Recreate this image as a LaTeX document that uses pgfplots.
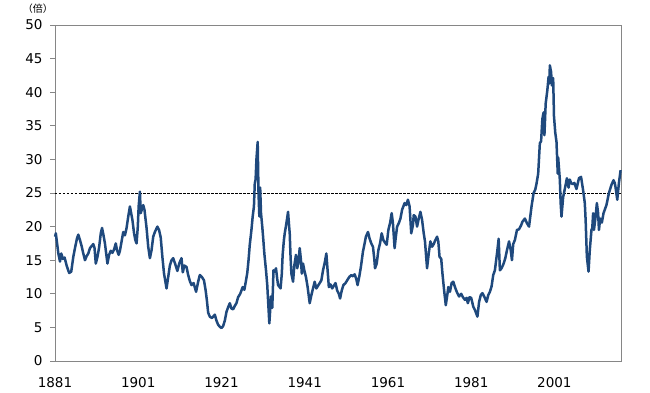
\documentclass[border=0pt]{standalone}
\usepackage{fontspec}
\setmainfont{DejaVu Sans}
\newfontfamily\cjk{Noto Sans CJK JP}
\usepackage{pgfplots}
\pgfplotsset{compat=1.18}
\definecolor{line}{RGB}{31,73,125}
\definecolor{axgray}{RGB}{134,134,134}
\begin{document}
\begin{tikzpicture}
\path[use as bounding box] (-55pt,-31pt) rectangle (595pt,361pt);
\begin{axis}[
  at={(0,0)}, anchor=south west,
  scale only axis, width=566pt, height=336pt,
  xmin=1881, xmax=2017, ymin=0, ymax=50,
  xtick={1881,1901,1921,1941,1961,1981,2001},
  ytick={0,5,...,50},
  axis line style={axgray, line width=0.8pt},
  major tick length=5pt,
  xtick style={draw=none},
  ytick style={axgray, line width=0.8pt},
  tick align=outside,
  ytick pos=left, xtick pos=bottom,
  /pgf/number format/1000 sep={},
  /pgf/number format/assume math mode=true,
  ticklabel style={font=\fontsize{13.5}{15}\selectfont},
  yticklabel style={xshift=-4pt},
  xticklabel style={yshift=-8pt},
  clip=false,
]
\addplot[black, line width=0.8pt, dash pattern=on 2.5pt off 1.5pt] coordinates {(1881,25) (2017,25)};
\addplot[line, line width=2.5pt, line join=round] coordinates {
(1881.0,18.5)(1881.2,19.0)(1881.5,17.5)(1881.8,16.0)(1882.2,14.8)(1882.5,16.0)(1882.9,15.2)(1883.3,15.4)(1883.8,14.2)(1884.4,13.1)
(1884.9,13.3)(1885.4,15.5)(1885.8,16.8)(1886.3,18.3)(1886.6,18.8)(1887.0,18.0)(1887.4,17.1)(1887.8,16.0)(1888.2,15.0)(1888.6,15.6)
(1889.0,16.0)(1889.4,16.8)(1889.8,17.1)(1890.2,17.4)(1890.5,16.8)(1890.8,14.5)(1891.2,15.5)(1891.6,16.9)(1892.0,19.0)(1892.3,19.8)
(1892.6,18.9)(1893.0,17.5)(1893.3,16.0)(1893.6,14.5)(1894.0,15.8)(1894.4,16.4)(1894.8,16.1)(1895.2,16.6)(1895.6,17.5)(1895.9,16.5)
(1896.3,15.8)(1896.6,16.4)(1897.0,17.8)(1897.4,19.2)(1897.8,18.7)(1898.2,19.8)(1898.6,21.5)(1899.0,23.0)(1899.3,22.0)(1899.6,21.0)
(1900.0,19.0)(1900.3,18.0)(1900.6,17.5)(1900.9,20.0)(1901.1,23.0)(1901.4,25.2)(1901.6,22.0)(1901.9,22.6)(1902.2,23.2)(1902.5,22.5)
(1903.0,19.8)(1903.4,17.0)(1903.8,15.3)(1904.2,16.5)(1904.6,18.5)(1905.0,19.2)(1905.6,20.0)(1906.0,19.5)(1906.4,18.4)(1906.8,15.5)
(1907.2,13.0)(1907.8,10.8)(1908.2,12.5)(1908.6,14.2)(1909.0,15.0)(1909.4,15.3)(1909.9,14.4)(1910.4,13.4)(1910.9,14.6)(1911.4,15.3)
(1911.7,13.2)(1912.1,14.2)(1912.6,14.0)(1913.0,12.8)(1913.4,11.9)(1913.8,11.3)(1914.3,11.6)(1914.9,10.3)(1915.4,11.8)(1915.8,12.8)
(1916.3,12.5)(1916.8,12.0)(1917.2,10.5)(1917.5,9.0)(1917.8,7.2)(1918.2,6.6)(1918.7,6.4)(1919.0,6.6)(1919.4,6.9)(1919.8,6.0)
(1920.2,5.4)(1920.6,5.1)(1921.0,4.9)(1921.4,5.2)(1921.8,6.0)(1922.2,7.3)(1922.6,8.0)(1923.0,8.6)(1923.4,7.8)(1923.8,7.7)
(1924.2,8.2)(1924.6,8.6)(1925.0,9.5)(1925.5,10.0)(1926.1,11.0)(1926.5,10.6)(1926.9,12.0)(1927.2,13.1)(1927.5,15.0)(1927.8,17.3)
(1928.2,19.5)(1928.5,21.5)(1928.8,23.0)(1929.0,26.4)(1929.2,27.0)(1929.4,30.0)(1929.7,32.6)(1929.9,25.0)(1930.1,21.5)(1930.3,25.8)
(1930.5,22.0)(1930.8,20.0)(1931.0,18.5)(1931.3,16.0)(1931.7,13.5)(1932.0,11.3)(1932.2,9.0)(1932.5,5.6)(1932.7,7.5)(1932.9,9.6)
(1933.2,7.9)(1933.4,11.5)(1933.5,13.5)(1933.8,13.3)(1934.1,13.8)(1934.4,12.2)(1934.6,11.3)(1935.2,10.8)(1935.5,13.0)(1935.7,15.8)
(1936.0,18.0)(1936.2,19.0)(1936.6,20.5)(1937.0,22.2)(1937.2,20.5)(1937.4,19.0)(1937.6,15.5)(1937.8,13.0)(1938.2,11.8)(1938.5,14.2)
(1938.9,15.8)(1939.2,13.8)(1939.5,14.7)(1939.8,16.8)(1940.1,15.0)(1940.3,13.0)(1940.6,14.5)(1940.9,13.5)(1941.3,12.5)(1941.7,11.0)
(1942.2,8.6)(1942.6,9.8)(1943.0,10.8)(1943.4,11.8)(1943.8,10.8)(1944.2,11.2)(1944.6,11.6)(1945.0,12.0)(1945.4,13.5)(1945.8,14.6)
(1946.2,16.0)(1946.5,13.5)(1946.8,11.0)(1947.2,11.4)(1947.6,10.8)(1948.0,11.2)(1948.4,11.6)(1948.8,10.5)(1949.2,10.0)(1949.5,9.3)
(1949.9,10.5)(1950.3,11.3)(1950.8,11.6)(1951.2,12.0)(1951.7,12.5)(1952.2,12.8)(1952.6,12.6)(1953.0,12.9)(1953.4,12.2)(1953.7,11.3)
(1954.1,12.5)(1954.5,14.0)(1955.0,16.3)(1955.4,17.5)(1955.7,18.5)(1956.2,19.2)(1956.6,18.2)(1957.0,17.5)(1957.4,17.0)(1957.7,15.3)
(1957.9,13.8)(1958.3,14.5)(1958.7,16.5)(1959.1,17.5)(1959.5,19.0)(1959.9,18.0)(1960.3,17.6)(1960.7,17.3)(1961.1,19.5)(1961.5,20.5)
(1961.9,22.0)(1962.2,20.5)(1962.6,16.8)(1962.9,18.5)(1963.2,20.0)(1963.6,20.5)(1964.0,21.2)(1964.4,22.5)(1965.0,23.5)(1965.4,23.2)
(1965.8,24.0)(1966.2,23.0)(1966.6,19.0)(1967.0,20.2)(1967.2,21.7)(1967.6,21.5)(1968.0,20.0)(1968.4,21.2)(1968.8,22.2)(1969.2,21.0)
(1969.6,19.0)(1969.9,17.8)(1970.4,13.8)(1970.8,16.0)(1971.2,17.8)(1971.6,17.0)(1972.0,17.4)(1972.4,18.0)(1972.8,18.5)(1973.1,17.8)
(1973.4,15.5)(1973.8,15.2)(1974.1,13.0)(1974.5,10.5)(1974.9,8.3)(1975.3,10.0)(1975.5,11.0)(1975.9,10.3)(1976.3,11.6)(1976.7,11.8)
(1977.1,11.0)(1977.6,10.2)(1978.1,9.6)(1978.6,10.0)(1979.0,9.5)(1979.5,9.1)(1979.9,9.4)(1980.2,8.6)(1980.6,9.5)(1981.0,9.4)
(1981.5,8.1)(1981.9,7.6)(1982.5,6.6)(1982.9,8.8)(1983.3,9.8)(1983.7,10.1)(1984.2,9.5)(1984.7,8.8)(1985.1,9.8)(1985.5,10.3)
(1985.9,11.1)(1986.3,12.8)(1986.7,13.5)(1987.0,15.0)(1987.3,16.5)(1987.6,18.2)(1987.9,13.5)(1988.3,13.8)(1988.8,14.5)(1989.2,15.3)
(1989.6,16.5)(1990.1,17.8)(1990.5,16.5)(1990.8,15.0)(1991.1,17.4)(1991.5,18.0)(1992.0,19.5)(1992.5,19.6)(1993.0,20.2)(1993.3,20.7)
(1993.9,21.2)(1994.4,20.5)(1994.9,20.0)(1995.2,21.5)(1995.5,23.0)(1996.0,25.0)(1996.4,25.5)(1996.7,26.4)(1997.1,27.9)(1997.5,32.4)
(1997.8,32.7)(1998.1,36.0)(1998.4,37.0)(1998.6,33.6)(1998.9,38.3)(1999.3,40.3)(1999.6,42.3)(1999.8,41.3)(1999.9,44.0)(2000.2,43.0)
(2000.4,41.0)(2000.7,42.1)(2000.9,36.4)(2001.2,34.0)(2001.5,32.6)(2001.8,27.9)(2001.9,30.3)(2002.3,27.0)(2002.5,23.5)(2002.7,21.5)
(2003.1,24.4)(2003.5,25.6)(2004.0,27.2)(2004.4,25.8)(2004.7,27.0)(2005.0,26.5)(2005.4,26.3)(2005.8,26.5)(2006.3,25.6)(2006.9,27.2)
(2007.4,27.4)(2007.9,25.4)(2008.3,23.5)(2008.5,21.0)(2008.8,15.5)(2009.2,13.3)(2009.5,16.5)(2009.9,19.5)(2010.1,19.8)(2010.3,22.0)
(2010.5,19.5)(2010.9,21.5)(2011.2,23.5)(2011.5,22.0)(2011.7,19.5)(2012.0,21.2)(2012.4,20.6)(2012.8,22.0)(2013.5,23.2)(2014.1,25.0)
(2014.7,26.2)(2015.2,26.9)(2015.5,26.5)(2015.7,25.8)(2016.1,24.0)(2016.5,26.5)(2016.9,28.4)
};
\node[font=\cjk\fontsize{10}{12}\selectfont, anchor=center] at (rel axis cs:0,1) [xshift=-17pt, yshift=16pt] {（倍）};
\end{axis}
\end{tikzpicture}
\end{document}
